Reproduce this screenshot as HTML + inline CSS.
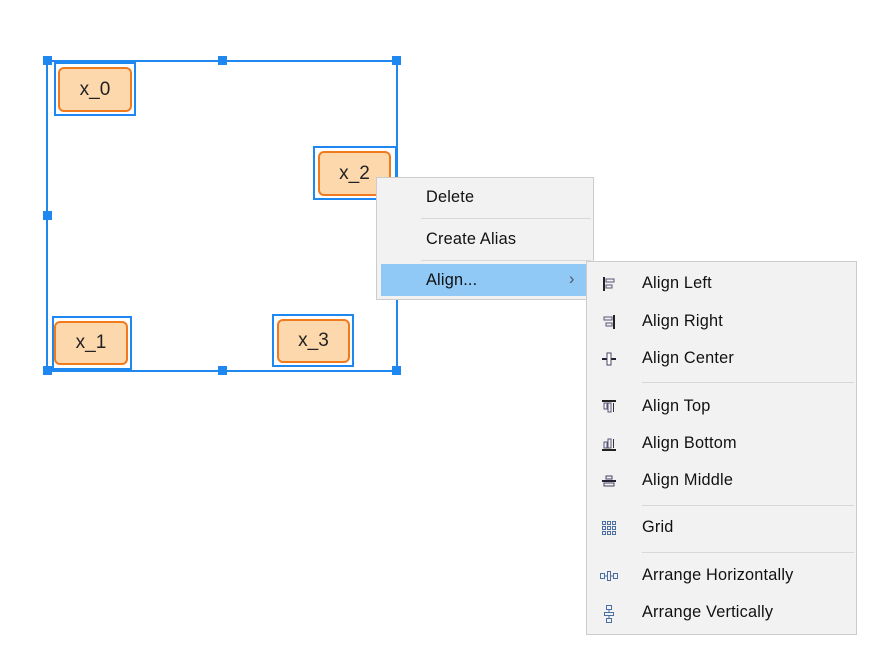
<!DOCTYPE html>
<html><head><style>
body{margin:0;width:894px;height:670px;background:#fff;position:relative;overflow:hidden;font-family:"Liberation Sans",sans-serif}
.a{position:absolute}
.h{position:absolute;width:9px;height:9px;background:#1e88f0}
.ob{position:absolute;border:2px solid #1e88f0;box-sizing:border-box}
.in{position:absolute;background:#fed8ad;border:2px solid #f07a1e;border-radius:6px;box-sizing:border-box;font-size:19px;color:#222;text-align:center}
.m{position:absolute;background:#f2f2f2;border:1px solid #ccc;box-sizing:border-box}
.t{position:absolute;font-size:16.3px;color:#111;letter-spacing:0.2px}
.sep{position:absolute;height:1px;background:#d8d8d8}
.ic{position:absolute;left:14px;width:16px;height:16px}
</style></head><body>
<div class="a" style="left:46px;top:60px;width:352px;height:312px;border:2px solid #1e88f0;box-sizing:border-box"></div>
<div class="h" style="left:43px;top:56px"></div><div class="h" style="left:218px;top:56px"></div><div class="h" style="left:392px;top:56px"></div>
<div class="h" style="left:43px;top:211px"></div>
<div class="h" style="left:43px;top:366px"></div><div class="h" style="left:218px;top:366px"></div><div class="h" style="left:392px;top:366px"></div>

<div class="ob" style="left:54px;top:62px;width:82px;height:54px"></div>
<div class="in" style="left:58px;top:67px;width:74px;height:45px;line-height:41px">x_0</div>
<div class="ob" style="left:313px;top:146px;width:84px;height:54px"></div>
<div class="in" style="left:318px;top:151px;width:73px;height:45px;line-height:41px">x_2</div>
<div class="ob" style="left:52px;top:316px;width:80px;height:54px"></div>
<div class="in" style="left:54px;top:321px;width:74px;height:44px;line-height:40px">x_1</div>
<div class="ob" style="left:272px;top:314px;width:82px;height:53px"></div>
<div class="in" style="left:277px;top:319px;width:73px;height:44px;line-height:40px">x_3</div>

<div class="m" style="left:376px;top:177px;width:218px;height:123px">
<div class="t" style="left:49px;top:10px">Delete</div>
<div class="sep" style="left:44px;top:40px;width:170px"></div>
<div class="t" style="left:49px;top:52px">Create Alias</div>
<div class="sep" style="left:44px;top:82px;width:170px"></div>
<div class="a" style="left:4px;top:86px;width:210px;height:32px;background:#90c8f6"></div>
<div class="t" style="left:49px;top:93px">Align...</div>
<div class="t" style="left:192px;top:92px;color:#555">›</div>
</div>

<div class="m" style="left:586px;top:261px;width:271px;height:374px">
<svg class="ic" style="top:14px" viewBox="0 0 16 16"><rect x="2" y="1" width="2" height="14" fill="#222"/><rect x="5" y="3" width="8" height="3" fill="none" stroke="#557" /><rect x="5" y="9" width="6" height="3" fill="none" stroke="#557"/></svg>
<div class="t" style="left:55px;top:12px">Align Left</div>
<svg class="ic" style="top:52px" viewBox="0 0 16 16"><rect x="12" y="1" width="2" height="14" fill="#222"/><rect x="3" y="3" width="8" height="3" fill="none" stroke="#557"/><rect x="5" y="9" width="6" height="3" fill="none" stroke="#557"/></svg>
<div class="t" style="left:55px;top:50px">Align Right</div>
<svg class="ic" style="top:89px" viewBox="0 0 16 16"><rect x="1" y="7" width="14" height="2" fill="#223"/><rect x="6" y="2" width="4" height="12" fill="#fff" stroke="#446"/></svg>
<div class="t" style="left:55px;top:87px">Align Center</div>
<div class="sep" style="left:55px;top:120px;width:212px"></div>
<svg class="ic" style="top:137px" viewBox="0 0 16 16"><rect x="1" y="1" width="14" height="2" fill="#222"/><rect x="3" y="4" width="3" height="6" fill="none" stroke="#557"/><rect x="7" y="4" width="3" height="9" fill="none" stroke="#557"/><rect x="12" y="4" width="1" height="9" fill="#333"/></svg>
<div class="t" style="left:55px;top:135px">Align Top</div>
<svg class="ic" style="top:174px" viewBox="0 0 16 16"><rect x="1" y="13" width="14" height="2" fill="#222"/><rect x="3" y="6" width="3" height="6" fill="none" stroke="#557"/><rect x="7" y="3" width="3" height="9" fill="none" stroke="#557"/><rect x="12" y="3" width="1" height="9" fill="#333"/></svg>
<div class="t" style="left:55px;top:172px">Align Bottom</div>
<svg class="ic" style="top:211px" viewBox="0 0 16 16"><rect x="1" y="7" width="14" height="2" fill="#223"/><rect x="5" y="3" width="6" height="3" fill="none" stroke="#446"/><rect x="3" y="10" width="10" height="3" fill="none" stroke="#446"/></svg>
<div class="t" style="left:55px;top:209px">Align Middle</div>
<div class="sep" style="left:55px;top:243px;width:212px"></div>
<svg class="ic" style="top:258px" viewBox="0 0 16 16" fill="none" stroke="#4a6fa5"><rect x="1.5" y="1.5" width="3" height="3"/><rect x="6.5" y="1.5" width="3" height="3"/><rect x="11.5" y="1.5" width="3" height="3"/><rect x="1.5" y="6.5" width="3" height="3"/><rect x="6.5" y="6.5" width="3" height="3"/><rect x="11.5" y="6.5" width="3" height="3"/><rect x="1.5" y="11.5" width="3" height="3"/><rect x="6.5" y="11.5" width="3" height="3"/><rect x="11.5" y="11.5" width="3" height="3"/></svg>
<div class="t" style="left:55px;top:256px">Grid</div>
<div class="sep" style="left:55px;top:290px;width:212px"></div>
<svg class="ic" style="top:306px;width:20px;left:12px" viewBox="0 0 20 16" fill="none" stroke="#4a6fa5"><rect x="1.5" y="5.5" width="4" height="5"/><rect x="8.5" y="3.5" width="3" height="9"/><rect x="14.5" y="5.5" width="4" height="5"/><path d="M5.5 8h3M11.5 8h3"/></svg>
<div class="t" style="left:55px;top:304px">Arrange Horizontally</div>
<svg class="ic" style="top:342px;height:20px" viewBox="0 0 16 20" fill="none" stroke="#4a6fa5"><rect x="5.5" y="1.5" width="5" height="4"/><rect x="3.5" y="8.5" width="9" height="3"/><rect x="5.5" y="14.5" width="5" height="4"/><path d="M8 5.5v3M8 11.5v3"/></svg>
<div class="t" style="left:55px;top:341px">Arrange Vertically</div>
</div>
</body></html>
